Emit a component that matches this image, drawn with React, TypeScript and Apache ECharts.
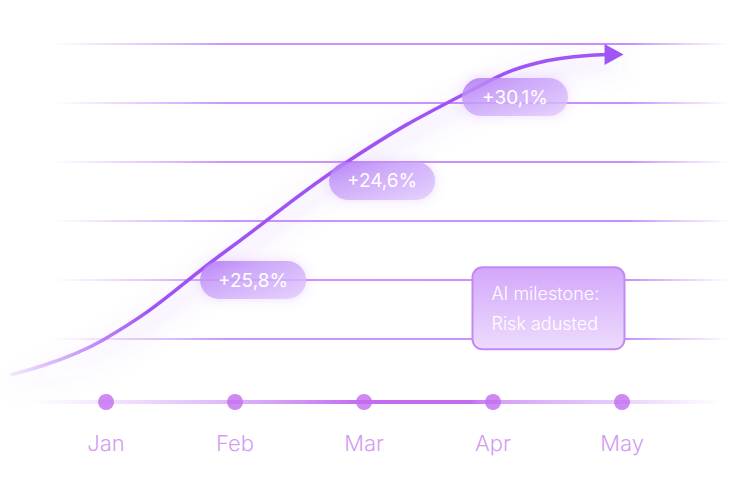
import React, { useEffect, useRef } from "react";
import * as echarts from "echarts";

// ---- data ----
const months = ["Jan", "Feb", "Mar", "Apr", "May"];
const monthIndex = [0, 1, 2, 3, 4];
const gridLevels = [5, 10, 15, 20, 25, 30];
const curveX = [-0.744, -0.023, 0.961, 1.891, 2.822, 3.341, 3.938];
const curveY = [1.95, 4.92, 12.71, 20.17, 26.02, 28.39, 29.11];
const badgeLabels = ["+25,8%", "+24,6%", "+30,1%"];
const badgeX = [1.14, 2.14, 3.17];
const badgeY = [10.0, 18.4, 25.5];
const milestoneLines = ["AI milestone:", "Risk adusted"];
const milestoneX = [3.43];
const milestoneY = [7.6];
const timelineY = -0.34;

const X_MIN = -0.822;
const X_MAX = 4.961;
const FONT = "Inter, 'Noto Sans', sans-serif";

export default function App() {
  const ref = useRef<HTMLDivElement>(null);

  useEffect(() => {
    if (!ref.current) return;
    const chart = echarts.init(ref.current, undefined, { renderer: "svg" });
    const G = echarts.graphic.LinearGradient;

    const gridGrad = new G(0, 0, 746, 0, [
      { offset: 0.07, color: "rgba(200,150,250,0)" },
      { offset: 0.16, color: "rgba(200,145,250,0.35)" },
      { offset: 0.3, color: "rgba(188,122,248,0.78)" },
      { offset: 0.84, color: "rgba(186,120,248,0.82)" },
      { offset: 0.98, color: "rgba(190,130,250,0)" },
    ], true);

    const timelineGrad = new G(0, 0, 746, 0, [
      { offset: 0.04, color: "rgba(205,150,248,0)" },
      { offset: 0.3, color: "rgba(200,140,245,0.6)" },
      { offset: 0.48, color: "rgba(192,100,240,0.95)" },
      { offset: 0.63, color: "rgba(192,100,240,0.95)" },
      { offset: 0.67, color: "rgba(200,130,245,0.75)" },
      { offset: 0.82, color: "rgba(205,150,245,0.5)" },
      { offset: 0.97, color: "rgba(210,160,250,0)" },
    ], true);

    const curveGrad = new G(0, 0, 746, 0, [
      { offset: 0.0, color: "rgba(168,85,247,0.05)" },
      { offset: 0.06, color: "rgba(168,85,247,0.35)" },
      { offset: 0.2, color: "rgba(160,82,245,1)" },
      { offset: 1, color: "#a055f5" },
    ], true);

    const last = curveX.length - 1;
    const curveData = curveX.map((x, i) =>
      i === last
        ? {
            value: [x, curveY[i]],
            symbol: "triangle",
            symbolRotate: -90,
            symbolSize: [21, 19],
            itemStyle: { color: "#a055f5" },
          }
        : { value: [x, curveY[i]], symbol: "none" }
    );

    const gridSeries = gridLevels.map((v) => ({
      type: "line",
      data: [
        [X_MIN, v],
        [X_MAX, v],
      ],
      symbol: "none",
      silent: true,
      z: 1,
      lineStyle: { width: 2, color: gridGrad },
    }));

    chart.setOption({
      animation: false,
      grid: { left: 0, right: 0, top: 44, bottom: 82 },
      xAxis: { type: "value", min: X_MIN, max: X_MAX, show: false },
      yAxis: { type: "value", min: 0, max: 30, show: false },
      series: [
        ...gridSeries,
        {
          type: "line",
          data: [
            [X_MIN, timelineY],
            [X_MAX, timelineY],
          ],
          symbol: "none",
          silent: true,
          clip: false,
          z: 2,
          lineStyle: { width: 4, color: timelineGrad },
        },
        {
          type: "scatter",
          data: monthIndex.map((x, i) => ({ value: [x, timelineY], name: months[i] })),
          symbol: "circle",
          symbolSize: 16,
          clip: false,
          z: 3,
          itemStyle: { color: "#c26cf0" },
          label: {
            show: true,
            position: "bottom",
            distance: 22,
            formatter: (p: any) => p.name,
            color: "#c87ff0",
            fontSize: 22,
            fontFamily: FONT,
            fontWeight: 300,
          },
        },
        {
          type: "line",
          data: curveData,
          smooth: 0.45,
          symbol: "none",
          showSymbol: true,
          clip: false,
          z: 4,
          lineStyle: {
            width: 3.5,
            color: curveGrad,
            shadowBlur: 24,
            shadowColor: "rgba(160,90,245,0.5)",
            shadowOffsetX: 4,
            shadowOffsetY: 9,
          },
        },
        {
          type: "custom",
          clip: false,
          z: 6,
          data: badgeX.map((x, i) => [x, badgeY[i], i]),
          renderItem: (params: any, api: any) => {
            const p = api.coord([api.value(0), api.value(1)]);
            const i = api.value(2);
            const w = 106;
            const h = 38;
            return {
              type: "group",
              children: [
                {
                  type: "rect",
                  shape: { x: p[0] - w / 2, y: p[1] - h / 2, width: w, height: h, r: 19 },
                  style: {
                    fill: new G(0, 0, 1, 1, [
                      { offset: 0, color: "rgba(176,118,245,0.88)" },
                      { offset: 0.35, color: "rgba(198,156,248,0.8)" },
                      { offset: 1, color: "rgba(226,204,252,0.8)" },
                    ]),
                    shadowBlur: 12,
                    shadowColor: "rgba(168,85,247,0.25)",
                  },
                },
                {
                  type: "text",
                  x: p[0],
                  y: p[1],
                  style: {
                    text: badgeLabels[i],
                    fill: "#ffffff",
                    fontSize: 19,
                    fontFamily: FONT,
                    align: "center",
                    verticalAlign: "middle",
                    textAlign: "center",
                    textVerticalAlign: "middle",
                  },
                },
              ],
            };
          },
        },
        {
          type: "custom",
          clip: false,
          z: 6,
          data: milestoneX.map((x, i) => [x, milestoneY[i]]),
          renderItem: (params: any, api: any) => {
            const p = api.coord([api.value(0), api.value(1)]);
            const w = 152;
            const h = 82;
            const left = p[0] - w / 2;
            const top = p[1] - h / 2;
            return {
              type: "group",
              children: [
                {
                  type: "rect",
                  shape: { x: left, y: top, width: w, height: h, r: 10 },
                  style: {
                    fill: new G(0, 0, 0, 1, [
                      { offset: 0, color: "#d3a6fb" },
                      { offset: 1, color: "#eddcfd" },
                    ]),
                    stroke: "#c48af4",
                    lineWidth: 2,
                  },
                },
                ...milestoneLines.map((t, k) => ({
                  type: "text",
                  x: left + 19,
                  y: top + 26 + k * 30,
                  style: {
                    text: t,
                    fill: "#ffffff",
                    fontSize: 18,
                    fontWeight: 300,
                    fontFamily: FONT,
                    align: "left",
                    verticalAlign: "middle",
                    textAlign: "left",
                    textVerticalAlign: "middle",
                  },
                })),
              ],
            };
          },
        },
      ],
    });

    return () => chart.dispose();
  }, []);

  return (
    <div
      ref={ref}
      style={{ position: "fixed", left: 0, top: 0, width: 746, height: 480, background: "#ffffff" }}
    />
  );
}
